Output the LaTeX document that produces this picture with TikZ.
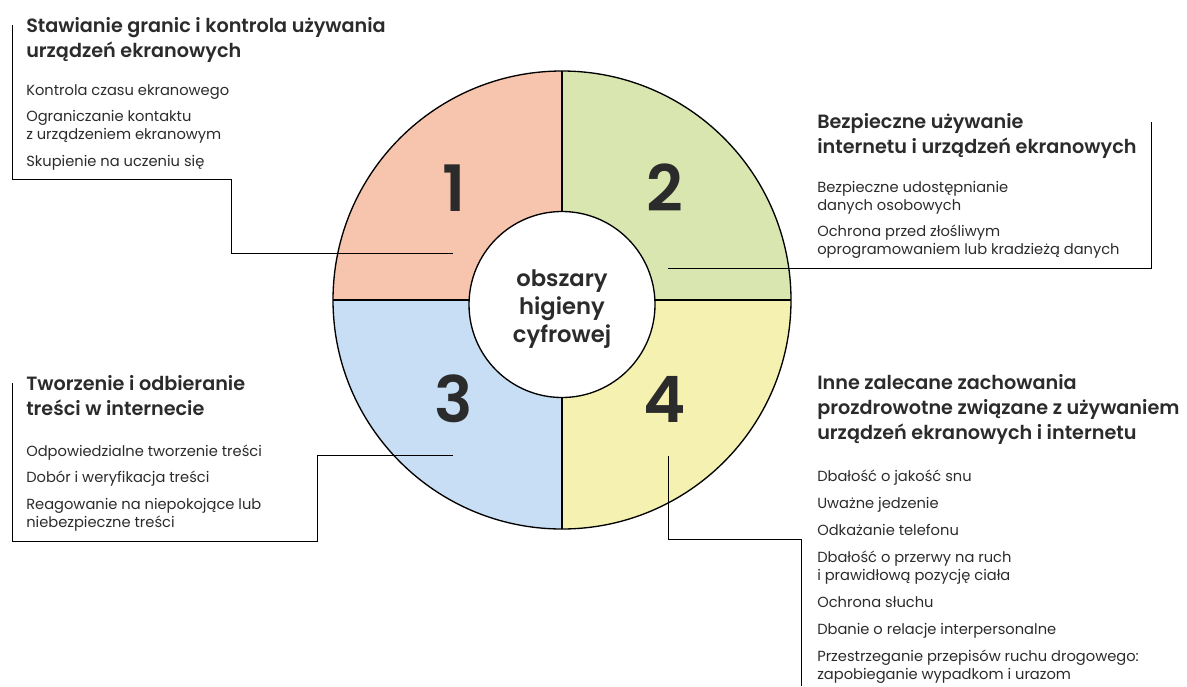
\documentclass[tikz,border=0pt]{standalone}
\usepackage{fontspec}
\setmainfont{Poppins}
\IfFontExistsTF{Poppins SemiBold}{\newfontfamily\semifam{Poppins SemiBold}}{\newfontfamily\semifam{Poppins}[FakeBold=1.5]}
\usetikzlibrary{positioning}

\definecolor{ink}{HTML}{2B2B2B}
\definecolor{quadA}{HTML}{F7C4AE}
\definecolor{quadB}{HTML}{D9E6B0}
\definecolor{quadC}{HTML}{C8DEF4}
\definecolor{quadD}{HTML}{F5F1B1}

\newcommand{\headfont}{\semifam\fontsize{14.4}{19.1}\selectfont}
\newcommand{\itemfont}{\fontsize{11}{13.5}\selectfont}
\newcommand{\gap}{\\[6.4pt]}
\newcommand{\widegap}{\\[6.8pt]}
\newcommand{\block}[1]{\begin{tabular}[t]{@{}l@{}}#1\end{tabular}}

\begin{document}
\begin{tikzpicture}[x=0.75pt,y=-0.75pt,
    head/.style={anchor=base west,font=\headfont,text=ink,inner sep=0pt},
    items/.style={anchor=base west,font=\itemfont,text=ink,inner sep=0pt},
    num/.style={font=\semifam\fontsize{48}{48}\selectfont,text=ink,inner sep=0pt},
    lead/.style={draw=black,line width=0.75pt}]
\useasboundingbox (0,0) rectangle (1187,686);

% wheel
\coordinate (c) at (562,300);
\fill[quadA] (c) -- ++(180:229) arc[start angle=180,end angle=270,radius=229] -- cycle;
\fill[quadB] (c) -- ++(270:229) arc[start angle=270,end angle=360,radius=229] -- cycle;
\fill[quadD] (c) -- ++(0:229) arc[start angle=0,end angle=90,radius=229] -- cycle;
\fill[quadC] (c) -- ++(90:229) arc[start angle=90,end angle=180,radius=229] -- cycle;
\draw[line width=1pt] (c) circle[radius=229];
\draw[line width=1pt] (562,71) -- (562,529) (333,300) -- (791,300);
\node[circle,draw,line width=1pt,fill=white,minimum size=139.5pt,inner sep=0pt] (hub) at (562,304.5) {};
\node[align=center,text=ink,font=\semifam\fontsize{17}{21}\selectfont] (hubtext) at (562,309)
      {obszary\\higieny\\cyfrowej};

\node[num] (n1) at (454,188) {1};
\node[num] (n2) at (665,188) {2};
\node[num] (n3) at (454,399) {3};
\node[num] (n4) at (665,399) {4};

% texts
\node[head] (h1) at (26,32) {\block{Stawianie granic i kontrola używania\\urządzeń ekranowych}};
\node[items] (i1) at (26,95) {\block{Kontrola czasu ekranowego\gap
  Ograniczanie kontaktu\\z urządzeniem ekranowym\gap
  Skupienie na uczeniu się}};

\node[head] (h2) at (817,128) {\block{Bezpieczne używanie\\internetu i urządzeń ekranowych}};
\node[items] (i2) at (817,192) {\block{Bezpieczne udostępnianie\\danych osobowych\gap
  Ochrona przed złośliwym\\oprogramowaniem lub kradzieżą danych}};

\node[head] (h3) at (26,390) {\block{Tworzenie i odbieranie\\treści w internecie}};
\node[items] (i3) at (26,456) {\block{Odpowiedzialne tworzenie treści\gap
  Dobór i weryfikacja treści\gap
  Reagowanie na niepokojące lub\\niebezpieczne treści}};

\node[head] (h4) at (817,389) {\block{Inne zalecane zachowania\\prozdrowotne związane z używaniem\\urządzeń ekranowych i internetu}};
\node[items] (i4) at (817,481) {\block{Dbałość o jakość snu\widegap
  Uważne jedzenie\widegap
  Odkażanie telefonu\widegap
  Dbałość o przerwy na ruch\\i prawidłową pozycję ciała\widegap
  Ochrona słuchu\widegap
  Dbanie o relacje interpersonalne\widegap
  Przestrzeganie przepisów ruchu drogowego:\\zapobieganie wypadkom i urazom}};

% leaders
\coordinate (a1) at (453,253);
\coordinate (b1) at (12,25);
\coordinate (a2) at (668,268);
\coordinate (b2) at (1151,122);
\coordinate (a3) at (453,455);
\coordinate (b3) at (12,383);
\coordinate (a4) at (668,456);
\coordinate (b4) at (801,686);
\draw[lead] (a1) -- (231,253) -- (231,179) -- (12,179) -- (b1);
\draw[lead] (a2) -- (1151,268) -- (b2);
\draw[lead] (a3) -- (317,455) -- (317,541) -- (12,541) -- (b3);
\draw[lead] (a4) -- (668,539) -- (801,539) -- (b4);
\end{tikzpicture}
\end{document}
